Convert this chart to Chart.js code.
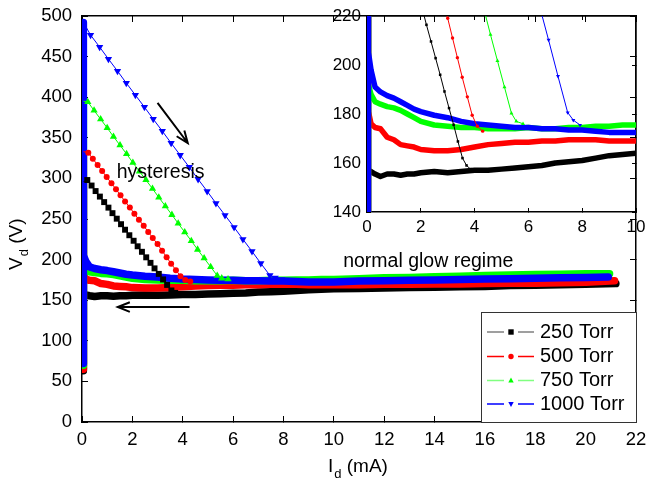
<!DOCTYPE html>
<html>
<head>
<meta charset="utf-8">
<script src="https://cdn.jsdelivr.net/npm/chart.js@4.4.1/dist/chart.umd.min.js"></script>
<style>
  body { margin: 0; background: #fff; }
  #wrap { position: relative; width: 648px; height: 492px; }
  #inset { position: absolute; left: 300px; top: 0; }
</style>
</head>
<body>
<div id="wrap">
  <canvas id="main" width="648" height="492"></canvas>
  <canvas id="inset" width="348" height="250"></canvas>
</div>
<script>
const FONT = '"Liberation Sans", Arial, sans-serif';

const pressures = ['250 Torr', '500 Torr', '750 Torr', '1000 Torr'];
const colors = ['#000000', '#ff0000', '#00ff00', '#0000ff'];
const legendLineColors = ['#808080', '#ff0000', '#80ff80', '#0000ff'];

// normal glow branch (thick band) - shared current grid, mA
const glowI = [0.04, 0.05, 0.06, 0.15, 0.3, 0.5, 0.75, 1, 1.25, 1.5, 1.75,
  2, 2.5, 3, 3.5, 4, 4.5, 5, 5.5, 6, 6.5, 7, 7.5, 8, 8.5, 9, 9.5, 10,
  11, 12, 13, 14, 15, 16, 17, 18, 19, 20];
const glowEndI = [21.2, 21.15, 20.95, 20.9];
const glowEndV = [170.5, 174, 182.5, 178.5];

const glowV250 = [63, 296, 157, 156.5, 155.5, 154.5, 155.5, 155.5, 155, 155.5, 155.5,
  156, 156.5, 156, 156.5, 157, 157, 157.5, 158, 158.5, 159, 160, 160.5, 161, 162, 163, 163.5, 164,
  164.5, 165, 165.5, 166, 166.5, 167, 168, 168.5, 169, 169.5];
const glowV500 = [65, 333, 181, 176, 174.5, 174, 170.5, 169.5, 167.5, 167, 166.5,
  165.5, 165, 165, 165.5, 166.5, 167.5, 168, 168.5, 168.5, 169, 169, 169.5, 169.5, 169.5, 169, 169, 169,
  169, 169.5, 169.5, 170, 170, 170.5, 171, 171, 171.5, 172];
const glowV750 = [70, 395, 192, 188, 185, 184, 183, 182.5, 181.5, 180, 178.5,
  177, 175.5, 175, 174.5, 174.5, 174, 174, 174, 174.5, 174, 174, 174.5, 174.5, 175, 175, 175.5, 175.5,
  176.5, 177.5, 178, 179, 179.5, 180.5, 181, 181.5, 182, 182.5];
const glowV1000 = [72, 492, 205, 198, 191, 189, 187.5, 186.5, 185, 183.5, 182,
  181, 179.5, 178.5, 177, 176, 175.5, 175, 174.5, 174.5, 174, 174, 173.5, 173.5, 173, 172.5, 172.5, 172.5,
  173.5, 174, 174.5, 175, 175.5, 176, 176.5, 177, 177.5, 178];

// descending (hysteresis) branch with markers
const downI250 = [0.06, 0.21, 0.38, 0.54, 0.71, 0.88, 1.05, 1.21, 1.38, 1.55, 1.71, 1.88, 2.05,
  2.21, 2.38, 2.55, 2.72, 2.88, 3.05, 3.22, 3.38, 3.55, 3.7, 3.85];
const downV250 = [296, 298, 291.2, 284.4, 277.6, 270.8, 264, 257.2, 250.4, 243.6, 236.8, 230, 223.2,
  216.4, 209.6, 202.8, 196, 189.2, 182.4, 175.6, 168.8, 162, 159, 157.5];
const downI500 = [0.06, 0.25, 0.43, 0.62, 0.8, 0.98, 1.17, 1.35, 1.53, 1.71, 1.9, 2.08, 2.26,
  2.45, 2.63, 2.81, 3.0, 3.18, 3.36, 3.54, 3.73, 3.91, 4.1, 4.3];
const downV500 = [333, 331.6, 324.1, 316.6, 309.1, 301.6, 294.1, 286.6, 279.1, 271.6, 264.1, 256.6, 249.1,
  241.6, 234.1, 226.6, 219.1, 211, 203, 195, 187, 179.5, 175, 173];
const downI750 = [0.06, 0.23, 0.48, 0.74, 1.0, 1.25, 1.51, 1.77, 2.02, 2.28, 2.54, 2.8, 3.05,
  3.31, 3.57, 3.82, 4.08, 4.34, 4.59, 4.85, 5.11, 5.37, 5.55, 5.8];
const downV750 = [395, 394.3, 383.6, 372.9, 362.2, 351.5, 340.8, 330.1, 319.4, 308.7, 298, 287.3, 276.6,
  265.9, 255.2, 244.5, 233.8, 223.1, 212.4, 201.7, 191, 180.3, 177, 176];
const downI1000 = [0.06, 0.34, 0.7, 1.05, 1.41, 1.76, 2.12, 2.48, 2.83, 3.19, 3.54, 3.9, 4.26,
  4.61, 4.97, 5.32, 5.68, 6.04, 6.39, 6.75, 7.1, 7.46, 7.67, 7.92];
const downV1000 = [492, 476.6, 461.8, 447, 432.2, 417.4, 402.6, 387.8, 373, 358.2, 343.4, 328.6, 313.8,
  299, 284.2, 269.4, 254.6, 239.8, 225, 210.2, 195.4, 180.6, 177.5, 175.5];

// tick settings
const mainXTicks = { min: 0, max: 22, step: 2 };
const mainYTicks = { min: 0, max: 500, step: 50 };
const insetXTicks = { min: 0, max: 10, step: 2 };
const insetYTicks = { min: 140, max: 220, step: 20 };

const glowV = [glowV250, glowV500, glowV750, glowV1000];
const downI = [downI250, downI500, downI750, downI1000];
const downV = [downV250, downV500, downV750, downV1000];
const pointStyles = ['rect', 'circle', 'triangle', 'triangle'];
const pointRot = [0, 0, 0, 180];

function pts(xs, ys) { return xs.map((x, i) => ({ x: x, y: ys[i] })); }

function buildDatasets(glowWidth, markerR) {
  const ds = [];
  for (let k = 0; k < 4; k++) {
    ds.push({
      label: pressures[k] + ' down',
      data: pts(downI[k], downV[k]),
      borderColor: colors[k],
      backgroundColor: colors[k],
      borderWidth: 1,
      pointStyle: pointStyles[k],
      pointRotation: pointRot[k],
      pointRadius: c => c.dataIndex === 0 ? 0 : markerR[k],
      pointBorderWidth: 0,
      pointBackgroundColor: colors[k],
      clip: 0,
      order: 3 - k
    });
  }
  for (let k = 0; k < 4; k++) {
    ds.push({
      label: pressures[k],
      data: pts(glowI.concat([glowEndI[k]]), glowV[k].concat([glowEndV[k]])),
      borderColor: colors[k],
      borderWidth: glowWidth,
      borderJoinStyle: 'round',
      borderCapStyle: 'round',
      pointRadius: 0,
      clip: 0,
      order: 7 - k
    });
  }
  return ds;
}

function axis(pos, t, opts) {
  return {
    type: 'linear', position: pos, min: t.min, max: t.max,
    ticks: { stepSize: t.step, display: opts.labels, color: '#000', font: { family: FONT, size: opts.font },
      padding: opts.pad, maxRotation: 0, autoSkip: false },
    grid: { drawOnChartArea: false, tickLength: opts.tick, color: '#000', lineWidth: 1 },
    border: { display: true, color: '#000', width: 1.5 },
    afterFit: s => {
      if (pos === 'top' || pos === 'bottom') s.height = opts.size; else s.width = opts.size;
      s.paddingLeft = 0; s.paddingRight = 0; s.paddingTop = 0; s.paddingBottom = 0;
    }
  };
}

function px(chart, x, y) {
  return [chart.scales.x.getPixelForValue(x), chart.scales.y.getPixelForValue(y)];
}

function arrow(ctx, x1, y1, x2, y2) {
  const a = Math.atan2(y2 - y1, x2 - x1), L = 13, h = 0.38;
  ctx.beginPath();
  ctx.moveTo(x1, y1); ctx.lineTo(x2, y2);
  ctx.moveTo(x2 - L * Math.cos(a - h), y2 - L * Math.sin(a - h));
  ctx.lineTo(x2, y2);
  ctx.lineTo(x2 - L * Math.cos(a + h), y2 - L * Math.sin(a + h));
  ctx.stroke();
}

function subText(ctx, x, y, main, sub, rest, rot) {
  ctx.save();
  ctx.translate(x, y);
  if (rot) ctx.rotate(-Math.PI / 2);
  ctx.textAlign = 'left';
  ctx.textBaseline = 'alphabetic';
  ctx.fillStyle = '#000';
  ctx.font = '19px ' + FONT;
  ctx.fillText(main, 0, 0);
  let w = ctx.measureText(main).width + 1;
  ctx.font = '13px ' + FONT;
  ctx.fillText(sub, w, 6);
  w += ctx.measureText(sub).width;
  ctx.font = '19px ' + FONT;
  ctx.fillText(rest, w, 0);
  ctx.restore();
}

function marker(ctx, k, x, y, r) {
  ctx.fillStyle = colors[k];
  ctx.beginPath();
  if (k === 0) ctx.rect(x - r, y - r, 2 * r, 2 * r);
  else if (k === 1) ctx.arc(x, y, r, 0, Math.PI * 2);
  else if (k === 2) { ctx.moveTo(x, y - r * 1.1); ctx.lineTo(x + r, y + r * 0.7); ctx.lineTo(x - r, y + r * 0.7); }
  else { ctx.moveTo(x, y + r * 1.1); ctx.lineTo(x + r, y - r * 0.7); ctx.lineTo(x - r, y - r * 0.7); }
  ctx.closePath();
  ctx.fill();
}

const mainDecor = {
  id: 'mainDecor',
  beforeDraw(chart) {
    const ctx = chart.ctx;
    ctx.save(); ctx.fillStyle = '#fff'; ctx.fillRect(0, 0, chart.width, chart.height); ctx.restore();
  },
  afterDraw(chart) {
    const ctx = chart.ctx, area = chart.chartArea;
    ctx.save();
    // arrows
    ctx.strokeStyle = '#000'; ctx.lineWidth = 2;
    let p = px(chart, 3.0, 393), q = px(chart, 4.2, 343.6);
    arrow(ctx, p[0], p[1], q[0], q[1]);
    p = px(chart, 4.27, 141.6); q = px(chart, 1.42, 141.6);
    arrow(ctx, p[0], p[1], q[0], q[1]);
    // notes
    ctx.fillStyle = '#000';
    ctx.font = '19.5px ' + FONT;
    ctx.textBaseline = 'alphabetic';
    p = px(chart, 1.38, 300);
    ctx.fillText('hysteresis', p[0], p[1]);
    p = px(chart, 10.37, 190.5);
    ctx.fillText('normal glow regime', p[0], p[1]);
    // legend
    const lx = area.right - 155, ly = area.bottom - 110;
    ctx.fillStyle = '#fff';
    ctx.fillRect(lx, ly, 155, 110);
    ctx.strokeStyle = '#333'; ctx.lineWidth = 1;
    ctx.strokeRect(lx + 0.5, ly + 0.5, 155, 110);
    const rows = [20, 44.5, 68.5, 92];
    for (let k = 0; k < 4; k++) {
      const y = ly + rows[k];
      ctx.strokeStyle = legendLineColors[k]; ctx.lineWidth = 1.3;
      ctx.beginPath();
      ctx.moveTo(lx + 6, y); ctx.lineTo(lx + 23, y);
      ctx.moveTo(lx + 37, y); ctx.lineTo(lx + 53, y);
      ctx.stroke();
      marker(ctx, k, lx + 30, y, 2.7);
      ctx.fillStyle = '#000';
      ctx.font = '20px ' + FONT;
      ctx.textBaseline = 'middle';
      ctx.fillText(pressures[k], lx + 59, y);
    }
    ctx.restore();
    // axis titles
    subText(ctx, 328, 471.5, 'I', 'd', ' (mA)', false);
    subText(ctx, 21.5, 270, 'V', 'd', ' (V)', true);
  }
};

Chart.defaults.font.family = FONT;
Chart.defaults.color = '#000';

new Chart(document.getElementById('main'), {
  type: 'line',
  data: { datasets: buildDatasets(7.5, [4.2, 3.0, 4.2, 4.2]) },
  options: {
    responsive: false,
    animation: false,
    devicePixelRatio: 1,
    layout: { padding: 0 },
    plugins: { legend: { display: false }, tooltip: { enabled: false } },
    scales: {
      x: axis('bottom', mainXTicks, { labels: true, font: 18.5, pad: 13, tick: -6, size: 70 }),
      xTop: axis('top', mainXTicks, { labels: false, font: 18.5, pad: 0, tick: -6, size: 16 }),
      y: axis('left', mainYTicks, { labels: true, font: 18.5, pad: 16, tick: -6, size: 82 }),
      yRight: axis('right', mainYTicks, { labels: false, font: 18.5, pad: 0, tick: -6, size: 12 })
    }
  },
  plugins: [mainDecor]
});

new Chart(document.getElementById('inset'), {
  type: 'line',
  data: { datasets: buildDatasets(5.5, [1.8, 1.7, 2.3, 2.3]) },
  options: {
    responsive: false,
    animation: false,
    devicePixelRatio: 1,
    layout: { padding: 0 },
    plugins: { legend: { display: false }, tooltip: { enabled: false } },
    scales: {
      x: axis('bottom', insetXTicks, { labels: true, font: 17, pad: 9, tick: -4, size: 38 }),
      xTop: axis('top', insetXTicks, { labels: false, font: 17, pad: 0, tick: -4, size: 16 }),
      y: axis('left', insetYTicks, { labels: true, font: 17, pad: 10, tick: -4, size: 67 }),
      yRight: axis('right', insetYTicks, { labels: false, font: 17, pad: 0, tick: -4, size: 12 })
    }
  }
});
</script>
</body>
</html>
